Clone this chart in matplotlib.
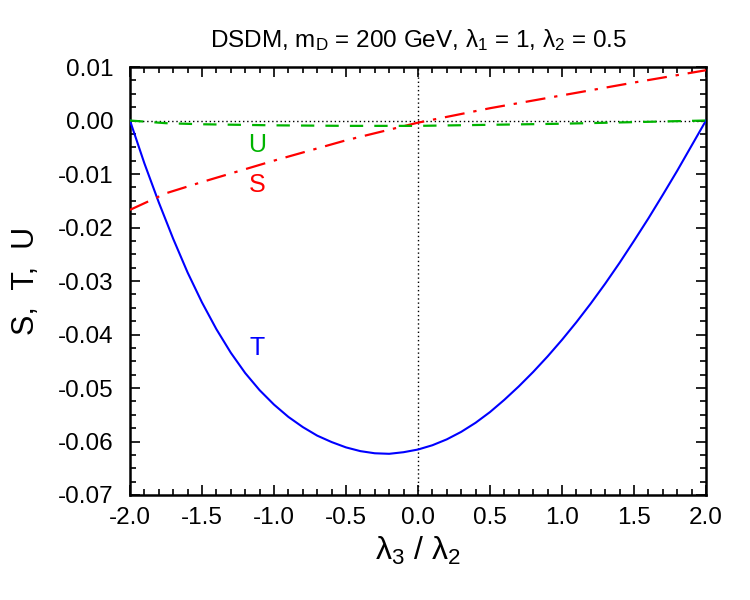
import matplotlib
matplotlib.use("Agg")
import matplotlib.pyplot as plt
from matplotlib.ticker import MultipleLocator, FormatStrFormatter

plt.rcParams['font.family'] = ['Liberation Sans', 'DejaVu Sans']
plt.rcParams['mathtext.fontset'] = 'custom'
plt.rcParams['mathtext.rm'] = 'Liberation Sans'
plt.rcParams['mathtext.it'] = 'Liberation Sans:italic'
plt.rcParams['mathtext.default'] = 'regular'

# x = lambda3 / lambda2
x_T = [-2.0, -1.9, -1.8, -1.7, -1.6, -1.5, -1.4, -1.3, -1.2, -1.1, -1.0,
       -0.9, -0.8, -0.7, -0.6, -0.5, -0.4, -0.3, -0.2, -0.1, 0.0,
       0.1, 0.2, 0.3, 0.4, 0.5, 0.6, 0.7, 0.8, 0.9, 1.0,
       1.1, 1.2, 1.3, 1.4, 1.5, 1.6, 1.7, 1.8, 1.9, 2.0]
T = [0.0, -0.0080, -0.0153, -0.0221, -0.0284, -0.0340, -0.0390, -0.0434, -0.0472, -0.0504, -0.0531,
     -0.0554, -0.0573, -0.0589, -0.0601, -0.0611, -0.0618, -0.0622, -0.0623, -0.0620, -0.0615,
     -0.0607, -0.0596, -0.0582, -0.0565, -0.0545, -0.0522, -0.0497, -0.0470, -0.0441, -0.0410,
     -0.0377, -0.0342, -0.0305, -0.0266, -0.0225, -0.0183, -0.0139, -0.0094, -0.0047, 0.0]

x_SU = [-2.0, -1.75, -1.5, -1.0, -0.5, 0.0, 0.5, 1.0, 1.5, 2.0]
S = [-0.0167, -0.0136, -0.0115, -0.0075, -0.0037, -0.0004, 0.0023, 0.0047, 0.0071, 0.0094]
U = [0.0, -0.0005, -0.0007, -0.0009, -0.0010, -0.0010, -0.0008, -0.0006, -0.0003, 0.0]

title = "DSDM, m$_\\mathrm{D}$ = 200 GeV, λ$_1$ = 1, λ$_2$ = 0.5"
xlabel = "λ$_3$ / λ$_2$"
ylabel = "S,  T,  U"

blue = '#0000ff'
red = '#ff0000'
green = '#00b400'

fig = plt.figure(figsize=(7.5, 6), dpi=100)
ax = fig.add_axes([0.1733, 0.175, 0.768, 0.7133])

ax.axhline(0, color='black', lw=1.0, ls=(0, (1, 2)), zorder=1)
ax.axvline(0, color='black', lw=1.0, ls=(0, (1, 2)), zorder=1)

ax.plot(x_T, T, color=blue, lw=1.5, zorder=3)
ax.plot(x_SU, S, color=red, lw=1.6, ls=(0, (9, 4, 1.5, 4)), zorder=3)
ax.plot(x_SU, U, color=green, lw=1.6, ls=(0, (6, 5)), zorder=3)

ax.text(-1.115, -0.0045, "U", color=green, fontsize=18, ha='center', va='center')
ax.text(-1.115, -0.0120, "S", color=red, fontsize=18, ha='center', va='center')
ax.text(-1.115, -0.0426, "T", color=blue, fontsize=18, ha='center', va='center')

ax.set_xlim(-2.0, 2.0)
ax.set_ylim(-0.07, 0.01)
ax.xaxis.set_major_locator(MultipleLocator(0.5))
ax.xaxis.set_minor_locator(MultipleLocator(0.1))
ax.yaxis.set_major_locator(MultipleLocator(0.01))
ax.yaxis.set_minor_locator(MultipleLocator(0.0025))
ax.xaxis.set_major_formatter(FormatStrFormatter('%.1f'))
ax.yaxis.set_major_formatter(FormatStrFormatter('%.2f'))

ax.tick_params(which='both', direction='in', top=True, right=True, labelsize=17.5, width=1.2)
ax.tick_params(which='major', length=7)
ax.tick_params(axis='y', which='major', pad=12)
ax.tick_params(axis='x', which='major', pad=9)
ax.tick_params(which='minor', length=4)
for s in ax.spines.values():
    s.set_linewidth(1.8)

ax.set_title(title, fontsize=17.5, pad=14)
ax.set_xlabel(xlabel, fontsize=23, labelpad=4)
ax.set_ylabel(ylabel, fontsize=22, labelpad=12)

fig.savefig("out.png", dpi=100)
